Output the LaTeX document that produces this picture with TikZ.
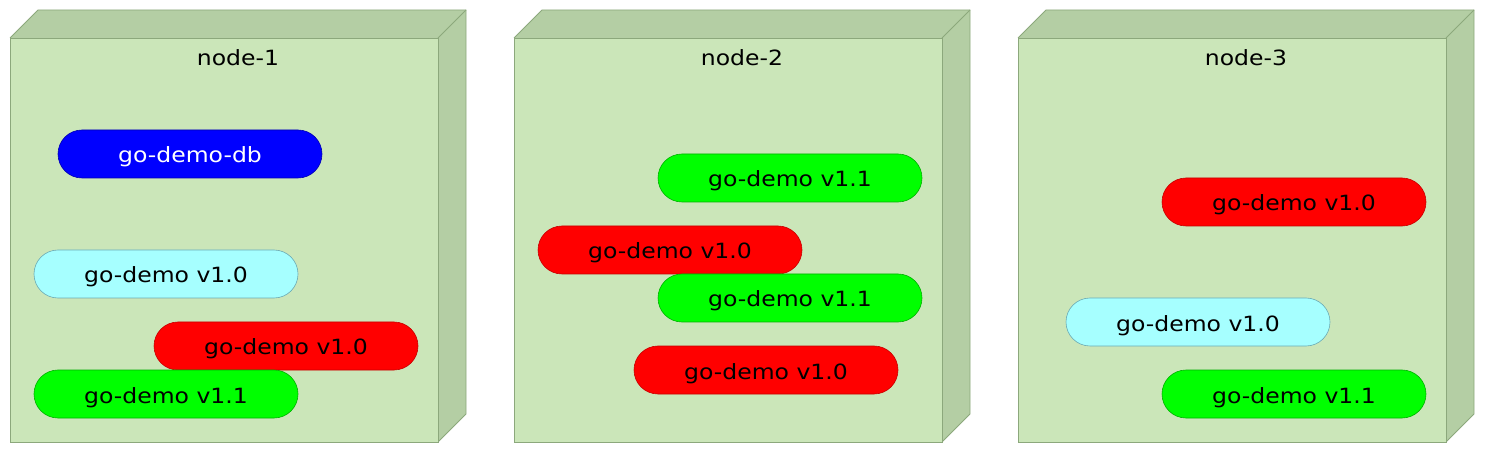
\documentclass[tikz,border=0pt]{standalone}
\usepackage{fontspec}
\setmainfont{DejaVu Sans}
\newfontfamily\pillfont[FakeStretch=1.12]{DejaVu Sans}
\definecolor{frontc}{HTML}{CBE6B9}
\definecolor{sidec}{HTML}{B4CEA4}
\definecolor{edgec}{HTML}{8CA87C}
\definecolor{cyanf}{HTML}{A6FFFF}
\definecolor{cyand}{HTML}{6BAAB4}
\definecolor{redd}{HTML}{C80000}
\definecolor{greend}{HTML}{00B000}
\begin{document}
\begin{tikzpicture}[x=1pt,y=-1pt,
  pill/.style={rounded rectangle, minimum width=264pt, minimum height=48pt, inner sep=0pt, text height=18pt, text depth=0pt, font=\pillfont\fontsize{21}{24}\selectfont, line width=0.6pt},
  bluep/.style={pill, fill=blue, draw=blue!70!black, text=white},
  cyanp/.style={pill, fill=cyanf, draw=cyand},
  redp/.style={pill, fill=red, draw=redd},
  greenp/.style={pill, fill=green, draw=greend},
  title/.style={font=\pillfont\fontsize{21}{24}\selectfont, inner sep=0pt},
  face/.style={draw=edgec, line width=0.8pt, line join=miter}]
\usetikzlibrary{shapes.misc}
\useasboundingbox (0,0) rectangle (1486,454);
\foreach \x/\n in {10/1,514/2,1018/3}{
  \fill[sidec] (\x,38) -- (\x+28,10) -- (\x+456,10) -- (\x+456,414) -- (\x+428,442) -- (\x+428,38) -- cycle;
  \draw[face] (\x,38) -- (\x+28,10) -- (\x+456,10) -- (\x+456,414) -- (\x+428,442);
  \draw[face] (\x+428,38) -- (\x+456,10);
  \draw[face, fill=frontc] (\x,38) rectangle (\x+428,442);
}
\node[title] (t1) at (238,58) {node-1};
\node[title] (t2) at (742,58) {node-2};
\node[title] (t3) at (1246,58) {node-3};
% box 1
\node[bluep] (a1) at (190,154) {go-demo-db};
\node[cyanp] (a2) at (166,274) {go-demo v1.0};
\node[redp] (a3) at (286,346) {go-demo v1.0};
\node[greenp] (a4) at (166,394) {go-demo v1.1};
% box 2
\node[greenp] (b1) at (790,178) {go-demo v1.1};
\node[redp] (b2) at (670,250) {go-demo v1.0};
\node[greenp] (b3) at (790,298) {go-demo v1.1};
\node[redp] (b4) at (766,370) {go-demo v1.0};
% box 3
\node[redp] (c1) at (1294,202) {go-demo v1.0};
\node[cyanp] (c2) at (1198,322) {go-demo v1.0};
\node[greenp] (c3) at (1294,394) {go-demo v1.1};
\end{tikzpicture}
\end{document}
